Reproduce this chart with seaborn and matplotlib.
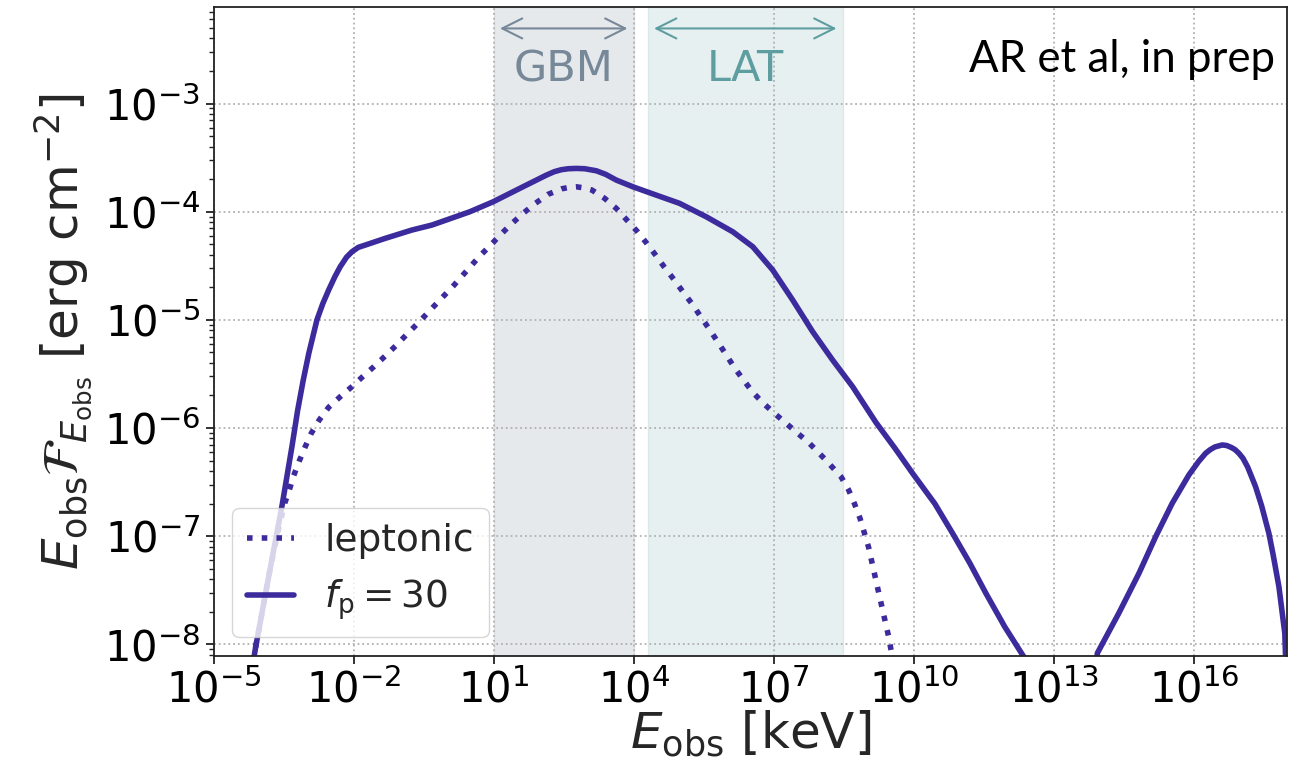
import numpy as np
import pandas as pd
import matplotlib
matplotlib.use("Agg")
import matplotlib.pyplot as plt
import matplotlib.transforms as mtransforms
from matplotlib.ticker import NullLocator
import seaborn as sns

# values, stored as log10(E_obs / keV) and log10(E F_E / erg cm^-2)
lep_logE = [-4.2, -4.1, -3.8, -3.6, -3.476, -3.378, -3.284, -3.164, -3.036, -2.907,
            -2.736, -2.535, -2.287, -2.036, -1.807, -1.566, -1.324, -1.095, -0.860, -0.624,
            -0.410, 0.15, 0.702, 0.931, 1.152, 1.394, 1.629, 1.894, 2.164, 2.463,
            2.62, 2.771, 2.95, 3.105, 3.377, 3.627, 3.854, 4.068, 4.269, 4.468, 4.660, 4.859,
            5.052, 5.253, 5.431, 5.623, 5.801, 5.980, 6.158, 6.351, 6.550, 6.778,
            7.013, 7.264, 7.512, 7.762, 8.1, 8.440, 8.603, 8.725, 8.847, 8.939,
            9.031, 9.104, 9.174, 9.245, 9.318, 9.389, 9.460, 9.524, 9.56]
lep_logF = [-8.30, -8.03, -7.33, -6.92, -6.696, -6.573, -6.441, -6.305, -6.173, -6.049,
            -5.926, -5.809, -5.711, -5.618, -5.526, -5.433, -5.335, -5.239, -5.134, -5.032,
            -4.934, -4.68, -4.410, -4.311, -4.210, -4.108, -4.016, -3.923, -3.840, -3.788,
            -3.775, -3.770, -3.781, -3.800, -3.877, -3.970, -4.078, -4.179, -4.287, -4.401, -4.515, -4.626,
            -4.740, -4.854, -4.968, -5.088, -5.205, -5.323, -5.443, -5.556, -5.670, -5.772,
            -5.864, -5.957, -6.049, -6.141, -6.29, -6.450, -6.573, -6.696, -6.835, -6.968,
            -7.103, -7.245, -7.380, -7.518, -7.657, -7.793, -7.928, -8.082, -8.2]

fp30_logE = [-4.2, -4.1, -3.8, -3.53, -3.32, -3.2, -3.08, -2.96, -2.785, -2.66,
             -2.535, -2.4, -2.287, -2.15, -2.036, -1.9, -1.752, -1.324, -0.753, -0.325,
             0.0, 0.488, 0.987, 1.558, 2.129, 2.3, 2.45, 2.6, 2.771, 2.95,
             3.199, 3.4, 3.627, 3.982, 4.483, 4.981, 5.552, 6.122, 6.55, 6.978,
             7.405, 7.833, 8.261, 8.689, 9.19, 9.6, 9.973, 10.45, 10.829, 11.2,
             11.543, 11.95, 12.45, 13.1, 13.931, 14.39, 14.823, 15.18, 15.535, 15.892,
             16.1, 16.25, 16.35, 16.45, 16.606, 16.7, 16.8, 16.88, 16.963, 17.05,
             17.15, 17.32, 17.45, 17.605, 17.7, 17.82, 17.946, 18.0]
fp30_logF = [-8.30, -8.03, -7.33, -6.71, -6.17, -5.84, -5.56, -5.31, -5.00, -4.85,
             -4.725, -4.60, -4.509, -4.42, -4.371, -4.33, -4.309, -4.247, -4.170, -4.124,
             -4.075, -4.001, -3.909, -3.785, -3.662, -3.630, -3.612, -3.603, -3.600, -3.603,
             -3.622, -3.655, -3.708, -3.770, -3.847, -3.923, -4.047, -4.186, -4.324, -4.540,
             -4.817, -5.110, -5.372, -5.618, -5.95, -6.19, -6.419, -6.70, -6.973, -7.25,
             -7.528, -7.84, -8.18, -12.0, -8.082, -7.713, -7.343, -7.005, -6.696, -6.434,
             -6.31, -6.234, -6.20, -6.175, -6.157, -6.162, -6.18, -6.20, -6.234, -6.28,
             -6.36, -6.542, -6.72, -6.973, -7.18, -7.467, -7.897, -8.6]

x_ticks = [1e-5, 1e-2, 1e1, 1e4, 1e7, 1e10, 1e13, 1e16]
gbm_band = (1e1, 1e4)      # keV
lat_band = (2e4, 3e8)      # keV

line_color = "#3b2b9c"
gbm_color = "#778899"
lat_color = "#5f9ea0"

lep = pd.DataFrame({"E": np.power(10.0, lep_logE), "F": np.power(10.0, lep_logF)})
fp30 = pd.DataFrame({"E": np.power(10.0, fp30_logE), "F": np.power(10.0, fp30_logF)})

sns.set_theme(style="ticks")
plt.rcParams["font.family"] = ["DejaVu Sans"]
plt.rcParams["mathtext.fontset"] = "dejavusans"

fig = plt.figure(figsize=(12.99, 7.72), dpi=100)
ax = fig.add_axes([0.1644, 0.1503, 0.8266, 0.8406])
ax.set_xscale("log")
ax.set_yscale("log")

# instrument bands
ax.axvspan(*gbm_band, color=gbm_color, alpha=0.18, zorder=0)
ax.axvspan(*lat_band, color=lat_color, alpha=0.15, zorder=0)

sns.lineplot(data=lep, x="E", y="F", ax=ax, color=line_color, lw=4,
             linestyle=":", label="leptonic", sort=False, estimator=None)
sns.lineplot(data=fp30, x="E", y="F", ax=ax, color=line_color, lw=4,
             label=r"$f_{\rm p} = 30$", sort=False, estimator=None)

ax.set_xlim(1e-5, 1e18)
ax.set_ylim(7.8e-9, 7.8e-3)
ax.set_xticks(x_ticks)
ax.xaxis.set_minor_locator(NullLocator())

ax.grid(True, which="major", ls=":", color="#b0b0b0", lw=1.3)
ax.set_axisbelow(True)
for sp in ax.spines.values():
    sp.set_linewidth(1.3)
    sp.set_color("#222222")
ax.tick_params(which="major", direction="out", length=6, width=1.3, labelsize=30,
               color="#222222", labelcolor="black")
ax.tick_params(which="minor", direction="out", length=3.5, width=1.0, color="#222222")

ax.set_xlabel(r"$E_{\rm obs}$ [keV]", fontsize=36, labelpad=-2)
ax.set_ylabel(r"$E_{\rm obs}\mathcal{F}_{E_{\rm obs}}$ [erg cm$^{-2}$]", fontsize=36, labelpad=6)

# arrows and labels for the bands
trans = mtransforms.blended_transform_factory(ax.transData, ax.transAxes)
for band, name, col in [(gbm_band, "GBM", gbm_color), (lat_band, "LAT", lat_color)]:
    ax.annotate("", xy=(band[1], 0.967), xytext=(band[0], 0.967),
                xycoords=trans, textcoords=trans,
                arrowprops=dict(arrowstyle="<->", color=col, lw=1.5,
                                mutation_scale=36, shrinkA=4.5, shrinkB=4.5))
    ax.text(np.sqrt(band[0] * band[1]), 0.904, name, transform=trans,
            ha="center", va="center", fontsize=31, color=col)

ax.text(0.9885, 0.900, "AR et al, in prep", transform=ax.transAxes,
        ha="right", va="baseline", fontsize=31.5, family=["Lato", "DejaVu Sans"],
        color="black")

leg = ax.legend(loc="lower left", fontsize=27, handlelength=1.25, framealpha=0.8,
                edgecolor="#cccccc", fancybox=True)

fig.savefig("out.png", dpi=100)
